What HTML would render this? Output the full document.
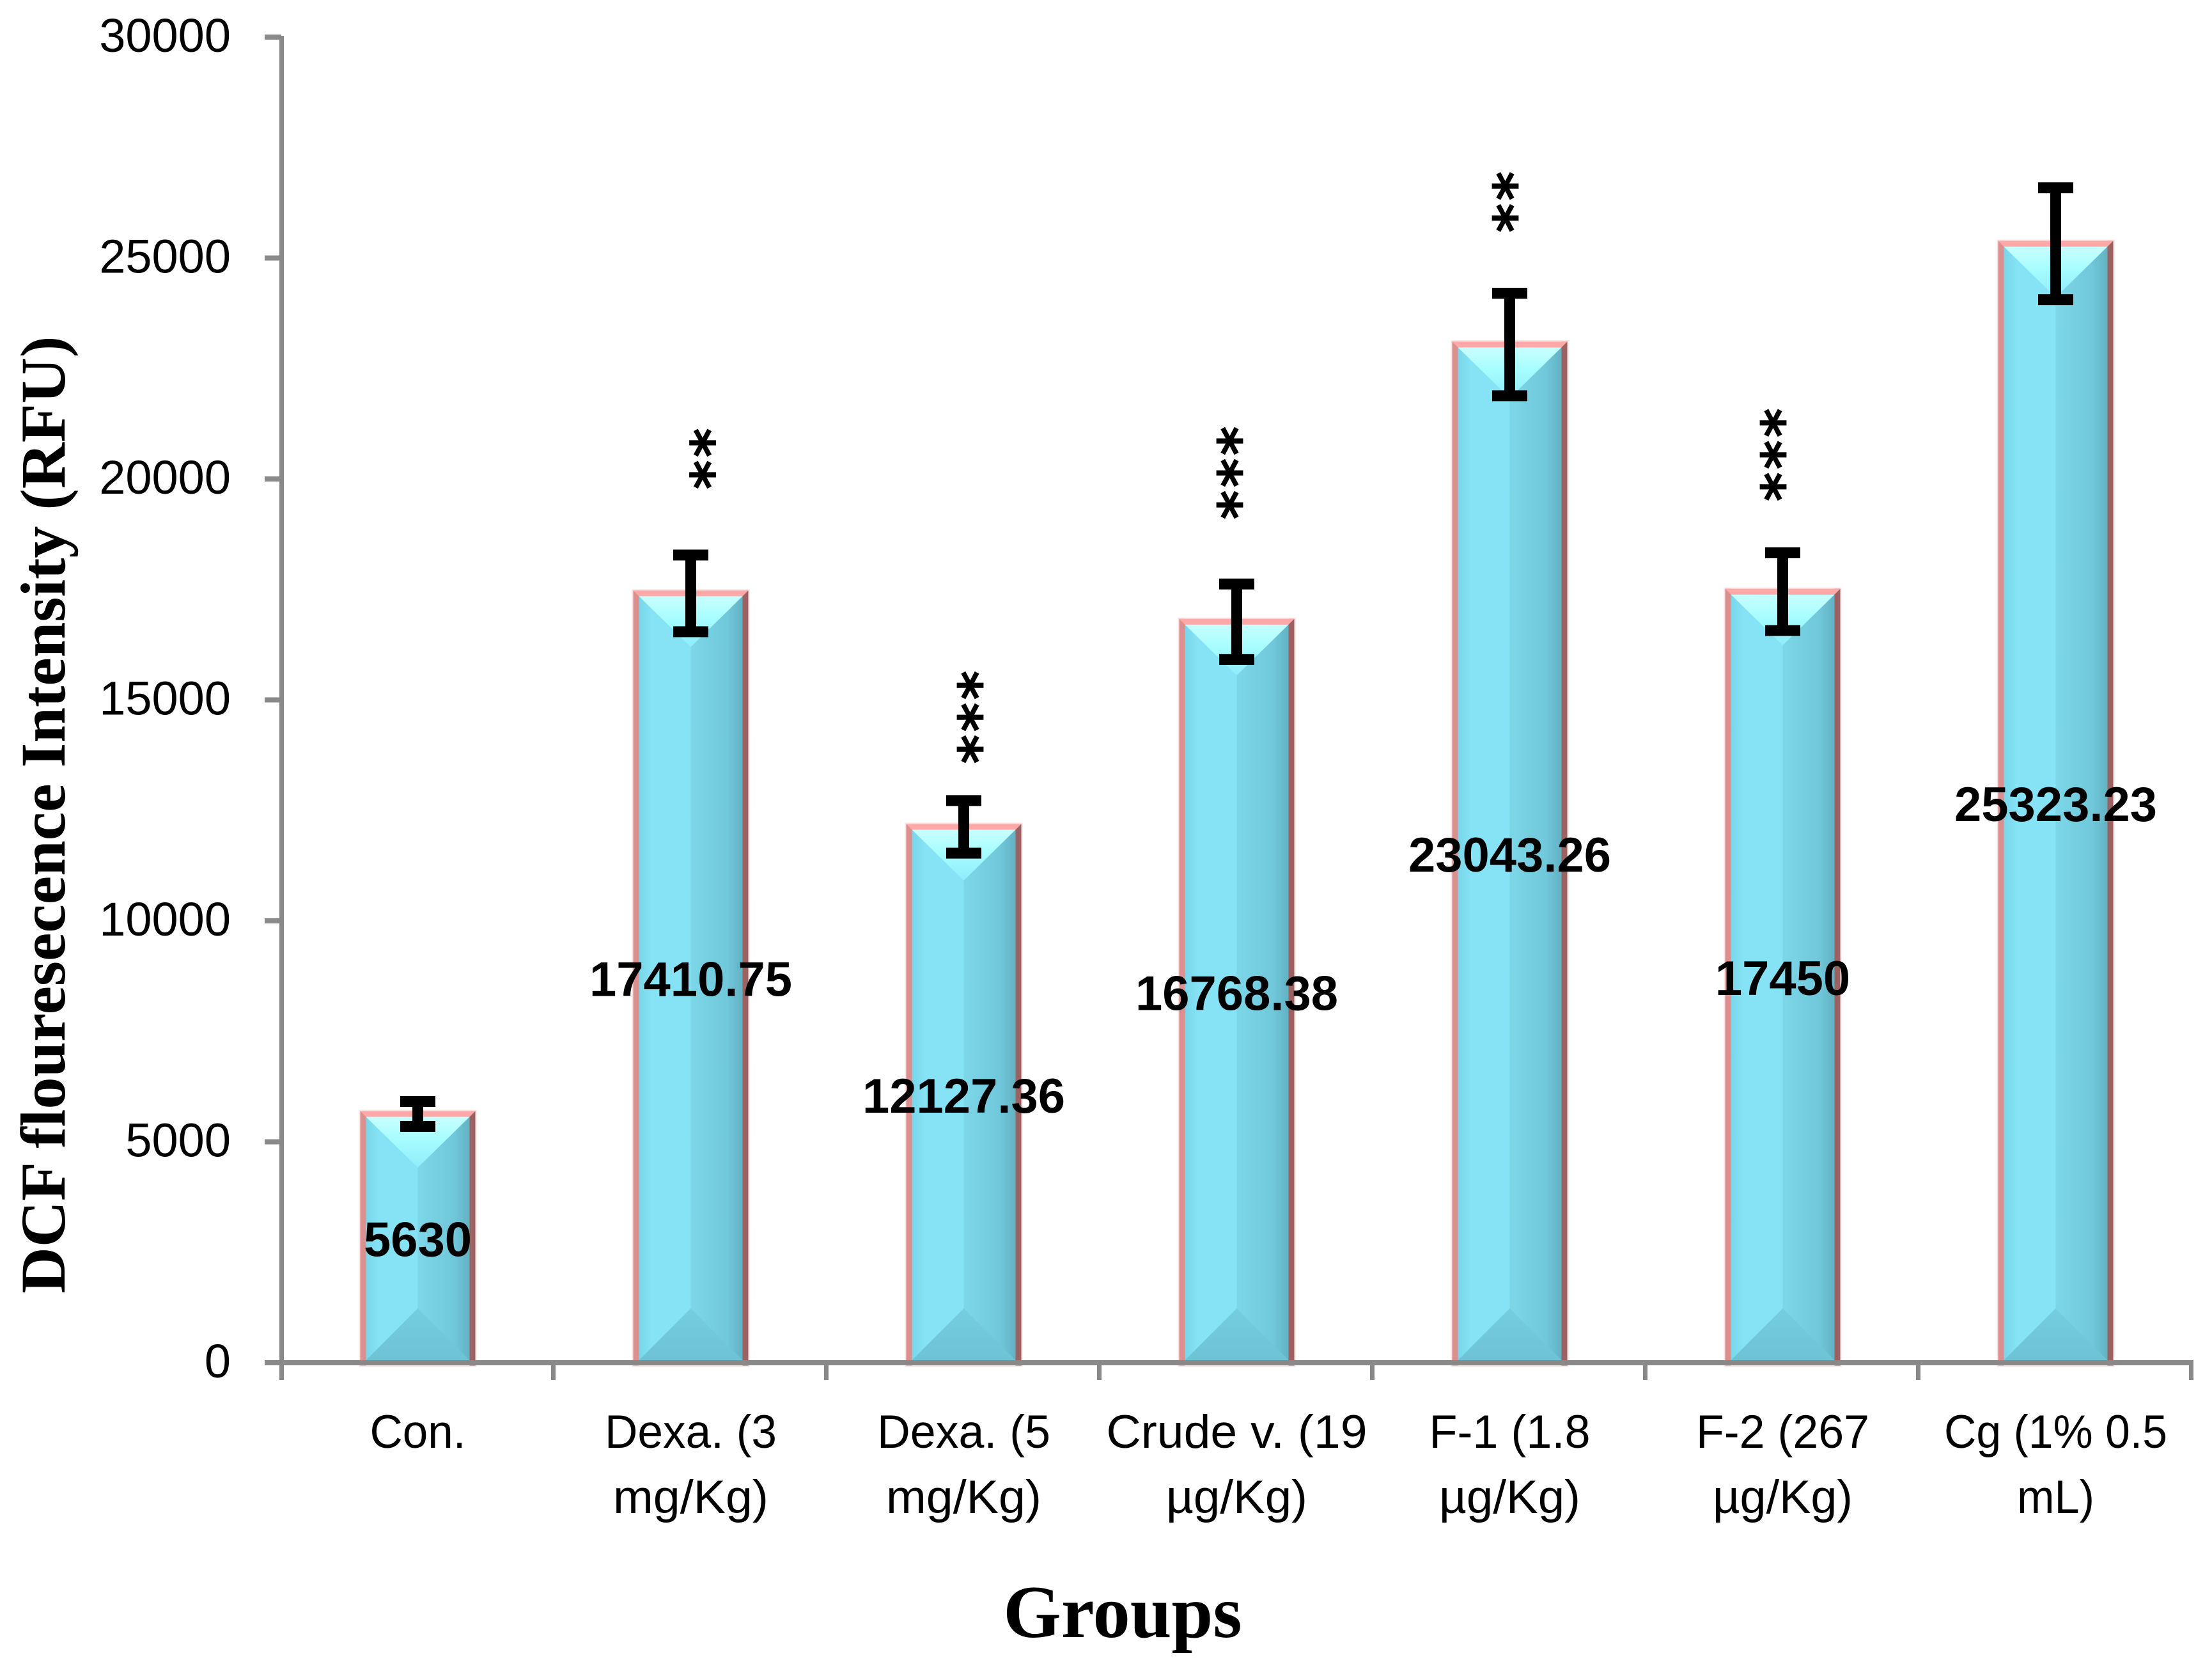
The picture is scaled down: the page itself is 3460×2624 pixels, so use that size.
<!DOCTYPE html>
<html lang="en">
<head>
<meta charset="utf-8">
<title>DCF fluorescence intensity by group</title>
<style>
  html, body { margin: 0; padding: 0; background: #fff; }
  svg { display: block; }
  text { fill: #000; }
  .tick { font: 74px "Liberation Sans", sans-serif; }
  .cat { font: 73px "Liberation Sans", sans-serif; }
  .val { font: bold 76px "Liberation Sans", sans-serif; }
  .title { font: bold 100px "Liberation Serif", serif; }
  .star { font: bold 88px "DejaVu Sans", sans-serif; stroke: #000; stroke-width: 0.8px; }
</style>
</head>
<body>
<svg id="chart" xmlns="http://www.w3.org/2000/svg" width="3460" height="2624" viewBox="0 0 3460 2624">
  <defs>
    <linearGradient id="g-left" x1="0" x2="1" y1="0" y2="0">
      <stop offset="0" stop-color="#78d6ea"/><stop offset=".25" stop-color="#86e3f5"/><stop offset="1" stop-color="#86e3f5"/>
    </linearGradient>
    <linearGradient id="g-right" x1="0" x2="1" y1="0" y2="0">
      <stop offset="0" stop-color="#7cd7e8"/><stop offset=".7" stop-color="#70c8da"/><stop offset="1" stop-color="#62b2c3"/>
    </linearGradient>
    <linearGradient id="g-top" x1="0" x2="0" y1="0" y2="1">
      <stop offset="0" stop-color="#c9feff"/><stop offset=".45" stop-color="#a6fdff"/><stop offset="1" stop-color="#8fecfb"/>
    </linearGradient>
    <linearGradient id="g-bottom" x1="0" x2="0" y1="0" y2="1">
      <stop offset="0" stop-color="#74cde0"/><stop offset="1" stop-color="#6ec3d5"/>
    </linearGradient>
  </defs>
  <rect x="0" y="0" width="3460" height="2624" fill="#fff"/>
  <g id="bars"></g>
  <g id="axes"></g>
  <g id="errors"></g>
  <g id="labels"></g>
  <text class="title" x="1756" y="2560" text-anchor="middle" style="font-size:116.5px">Groups</text>
  <text class="title" transform="translate(101 1274) rotate(-90)" text-anchor="middle">DCF flouresecence Intensity (RFU)</text>
</svg>
<script>
// Chart data
const categories = [
  ["Con."],
  ["Dexa. (3", "mg/Kg)"],
  ["Dexa. (5", "mg/Kg)"],
  ["Crude v. (19", "µg/Kg)"],
  ["F-1 (1.8", "µg/Kg)"],
  ["F-2 (267", "µg/Kg)"],
  ["Cg (1% 0.5", "mL)"]
];
const values = [5630, 17410.75, 12127.36, 16768.38, 23043.26, 17450, 25323.23];
const valueLabels = ["5630", "17410.75", "12127.36", "16768.38", "23043.26", "17450", "25323.23"];
const errors = [282, 868, 595, 855, 1160, 880, 1266];
const starCounts = [0, 2, 3, 3, 2, 3, 0];
const starLevels = [0, 20819, 15330, 20860, 26630, 21270, 0];
const yTicks = [0, 5000, 10000, 15000, 20000, 25000, 30000];

// Layout
const X0 = 440, CAT_W = 427, Y0 = 2131, Y_MAX_PX = 58, Y_MAX = 30000;
const BAR_W = 180, BORDER = 9, CAP_W = 55, ERR_T = 17, STAR_GAP = 50, STAR_SIZE = 88;
const STAR_NUDGE = [0, 19, 11, -10, -6, -14, 0];
const CAT_TEXT_WIDTHS = [[150], [269, 243], [271, 243], [408, 221], [252, 221], [271, 219], [349, 121]];
const AXIS = "#898989";
const SVGNS = "http://www.w3.org/2000/svg";
const xScale = i => X0 + CAT_W * (i + 0.5);
const yScale = v => Y0 - (v / Y_MAX) * (Y0 - Y_MAX_PX);

function make(tag, parent, attrs, text) {
  const el = document.createElementNS(SVGNS, tag);
  for (const k in attrs) el.setAttribute(k, attrs[k]);
  if (text !== undefined) el.textContent = text;
  parent.appendChild(el);
  return el;
}
const gBars = document.getElementById("bars");
const gAxes = document.getElementById("axes");
const gErrors = document.getElementById("errors");
const gLabels = document.getElementById("labels");

// Bars
values.forEach((v, i) => {
  const cx = xScale(i);
  const left = cx - BAR_W / 2, right = cx + BAR_W / 2;
  const top = yScale(v) - BORDER / 2, bottom = Y0 + BORDER / 2;
  const il = left + BORDER, ir = right - BORDER, it = top + BORDER, ib = Y0 - 4;
  const bev = (ir - il) / 2;
  const g = make("g", gBars, {});
  
  
  make("rect", g, {x: left - 2, y: top - 2, width: BAR_W + 4, height: bottom - top + 4, fill: "#f8e2e2"});
  make("rect", g, {x: il, y: it, width: bev, height: ib - it, fill: "url(#g-left)"});
  make("rect", g, {x: cx, y: it, width: bev, height: ib - it, fill: "url(#g-right)"});
  make("polygon", g, {points: il + "," + it + " " + ir + "," + it + " " + cx + "," + (it + bev * 0.98), fill: "url(#g-top)"});
  make("polygon", g, {points: il + "," + ib + " " + ir + "," + ib + " " + cx + "," + (ib - bev), fill: "url(#g-bottom)"});
  make("rect", g, {x: left, y: top, width: BORDER, height: bottom - top, fill: "#dc8f8f"});
  make("rect", g, {x: ir, y: top, width: BORDER, height: bottom - top, fill: "#9c6262"});
  make("polygon", g, {points: left + "," + top + " " + right + "," + top + " " + ir + "," + it + " " + il + "," + it, fill: "#ffa8a8"});
});

// Axes
const yLine = make("rect", gAxes, {x: X0 - 3, y: Y_MAX_PX - 2, width: 7, height: 2158 - Y_MAX_PX + 2, fill: AXIS});


const xLine = make("rect", gAxes, {x: X0, y: Y0 - 4, width: CAT_W * categories.length + 2, height: 8, fill: AXIS});



yTicks.forEach(t => {
  const y = yScale(t);
  const mark = make("rect", gAxes, {x: 414, y: y - 4, width: X0 - 414, height: 8, fill: AXIS});
  
  
  const label = make("text", gAxes, {class: "tick", x: 361, y: y + 23, "text-anchor": "end"}, String(t));
  
  
});

for (let i = 0; i <= categories.length; i++) {
  const mark = make("rect", gAxes, {x: X0 + CAT_W * i - (i ? 5 : 3), y: Y0, width: 7, height: 27, fill: AXIS});
  
  
}

categories.forEach((lines, i) => {
  lines.forEach((line, j) => {
    const label = make("text", gAxes, {
      class: "cat",
      x: xScale(i),
      y: 2264 + j * 102,
      "text-anchor": "middle",
      textLength: CAT_TEXT_WIDTHS[i][j],
      lengthAdjust: "spacingAndGlyphs"
    }, line);
    
    
  });
});

// Error bars
errors.forEach((e, i) => {
  const cx = xScale(i);
  const hi = yScale(values[i] + e), lo = yScale(values[i] - e);
  const g = make("g", gErrors, {fill: "#000"});
  
  
  make("rect", g, {x: cx - ERR_T / 2, y: hi, width: ERR_T, height: lo - hi});
  make("rect", g, {x: cx - CAP_W / 2, y: hi - ERR_T / 2, width: CAP_W, height: ERR_T});
  make("rect", g, {x: cx - CAP_W / 2, y: lo - ERR_T / 2, width: CAP_W, height: ERR_T});
});

// Value labels
values.forEach((v, i) => {
  const mid = (yScale(v) + Y0) / 2;
  const label = make("text", gLabels, {class: "val", x: xScale(i), y: mid + 1 + 27, "text-anchor": "middle"}, valueLabels[i]);
  
  
});

// Significance asterisks
starCounts.forEach((n, i) => {
  for (let k = 0; k < n; k++) {
    const sx = xScale(i) + STAR_NUDGE[i];
    const sy = yScale(starLevels[i]) + k * STAR_GAP;
    const star = make("text", gLabels, {
      class: "star",
      x: sx,
      y: sy + STAR_SIZE * 0.52,
      "text-anchor": "middle",
      transform: "rotate(90 " + sx + " " + sy + ")"
    }, "*");
    
    
  }
});
</script>
</body>
</html>
